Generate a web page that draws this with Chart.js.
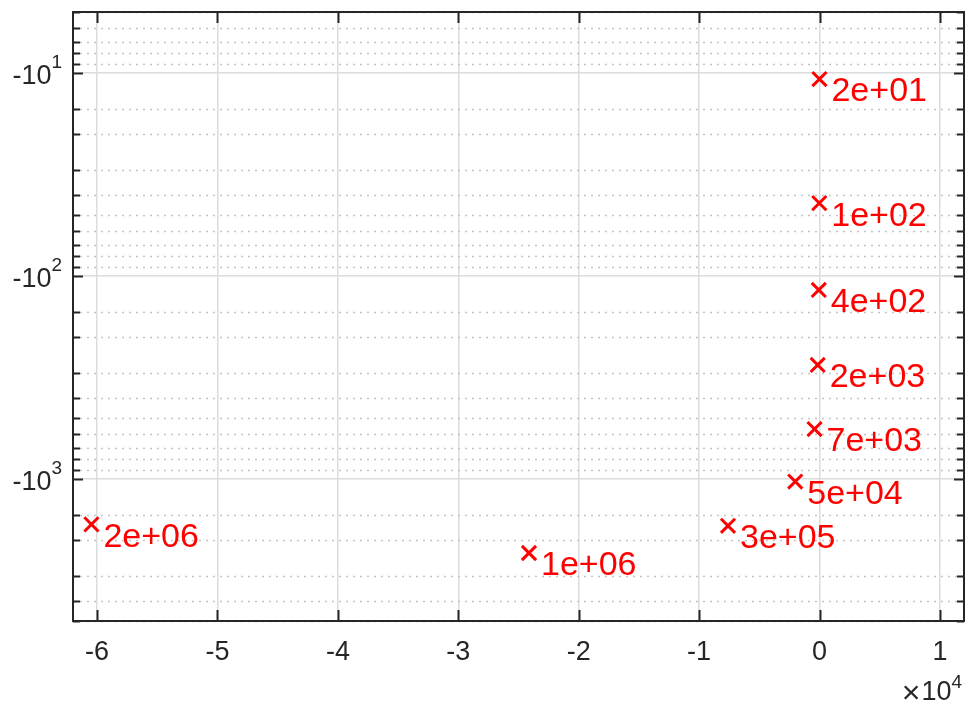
<!DOCTYPE html>
<html>
<head>
<meta charset="utf-8">
<script src="https://cdn.jsdelivr.net/npm/chart.js@4.4.1/dist/chart.umd.min.js"></script>
<style>
    html, body { margin: 0; padding: 0; background: #fff; }
</style>
</head>
<body>
<canvas id="poleChart" width="969" height="713"></canvas>
<script>
// values
const realParts = [-5, -20, -60, -150, -415, -2015, -7600, -24130, -60470];
const imagParts = [-10.7, -43.7, -117, -274, -567, -1028, -1698, -2312, -1671];
const pointLabels = ['2e+01', '1e+02', '4e+02', '2e+03', '7e+03', '5e+04', '3e+05', '1e+06', '2e+06'];
const xTicks = [-60000, -50000, -40000, -30000, -20000, -10000, 0, 10000];
const xExponent = 4;

const FONT = '"Liberation Sans", Arial, Helvetica, sans-serif';
const TEXT = '#262626';
const RED = '#ff0000';

const isDecade = v => Math.abs(Math.log10(v) - Math.round(Math.log10(v))) < 1e-9;

const matlabAxes = {
    id: 'matlabAxes',
    beforeDatasetsDraw: (chart) => {
        const { ctx, chartArea: a, scales: { y } } = chart;
        ctx.save();
        ctx.strokeStyle = '#c4c4c4';
        ctx.lineWidth = 1.5;
        ctx.setLineDash([2, 5]);
        y.ticks.forEach(t => {
            if (isDecade(t.value)) return;
            const py = Math.round(y.getPixelForValue(t.value)) + 0.5;
            ctx.beginPath();
            ctx.moveTo(a.left, py);
            ctx.lineTo(a.right, py);
            ctx.stroke();
        });
        ctx.restore();
    },
    afterDatasetsDraw: (chart) => {
        const { ctx } = chart;
        const meta = chart.getDatasetMeta(0);
        ctx.save();
        ctx.fillStyle = RED;
        ctx.font = '34px ' + FONT;
        ctx.textAlign = 'left';
        ctx.textBaseline = 'middle';
        meta.data.forEach((pt, i) => {
            ctx.fillText(pointLabels[i], pt.x + 12, pt.y + 13);
        });
        ctx.restore();
    },
    afterDraw: (chart) => {
        const { ctx, chartArea: a, scales: { x, y } } = chart;
        ctx.save();
        ctx.strokeStyle = TEXT;
        ctx.lineWidth = 2;

        // inward ticks on all four sides
        y.ticks.forEach(t => {
            const py = Math.round(y.getPixelForValue(t.value)) + 0.5;
            const len = isDecade(t.value) ? 10 : 7;
            ctx.beginPath();
            ctx.moveTo(a.left, py); ctx.lineTo(a.left + len, py);
            ctx.moveTo(a.right, py); ctx.lineTo(a.right - len, py);
            ctx.stroke();
        });
        x.ticks.forEach(t => {
            const px = Math.round(x.getPixelForValue(t.value)) + 0.5;
            ctx.beginPath();
            ctx.moveTo(px, a.bottom); ctx.lineTo(px, a.bottom - 11);
            ctx.moveTo(px, a.top); ctx.lineTo(px, a.top + 11);
            ctx.stroke();
        });
        ctx.strokeRect(a.left, a.top, a.right - a.left, a.bottom - a.top);

        // tick labels
        ctx.fillStyle = TEXT;
        ctx.textBaseline = 'middle';
        ctx.textAlign = 'center';
        ctx.font = '27px ' + FONT;
        x.ticks.forEach(t => {
            const px = x.getPixelForValue(t.value);
            ctx.fillText(String(t.value / Math.pow(10, xExponent)), px, a.bottom + 32);
        });

        y.ticks.forEach(t => {
            if (!isDecade(t.value)) return;
            const py = y.getPixelForValue(t.value);
            const exp = String(Math.round(Math.log10(t.value)));
            ctx.font = '19px ' + FONT;
            const ew = ctx.measureText(exp).width;
            ctx.textAlign = 'right';
            ctx.fillText(exp, a.left - 11, py - 10);
            ctx.font = '27px ' + FONT;
            ctx.fillText('-10', a.left - 11 - ew, py + 3);
        });

        // x10^4 multiplier
        ctx.textAlign = 'right';
        ctx.font = '19px ' + FONT;
        const ew = ctx.measureText(String(xExponent)).width;
        ctx.fillText(String(xExponent), a.right - 2, a.bottom + 62);
        ctx.font = '27px ' + FONT;
        ctx.fillText('10', a.right - 2 - ew, a.bottom + 72);
        const tw = ctx.measureText('10').width;
        ctx.font = '32px ' + FONT;
        ctx.fillText('\u00d7', a.right - 3 - ew - tw, a.bottom + 73);
        ctx.restore();
    },
};

new Chart(document.getElementById('poleChart'), {
    type: 'scatter',
    data: {
        datasets: [{
            data: realParts.map((re, i) => ({ x: re, y: Math.abs(imagParts[i]) })),
            pointStyle: 'crossRot',
            pointRadius: 10,
            pointHoverRadius: 10,
            borderColor: RED,
            backgroundColor: RED,
            borderWidth: 3,
            showLine: false,
        }]
    },
    options: {
        responsive: false,
        animation: false,
        layout: { autoPadding: false, padding: { top: 12, right: 5, left: 0, bottom: 0 } },
        plugins: { legend: { display: false }, tooltip: { enabled: false } },
        scales: {
            x: {
                type: 'linear',
                min: -62000,
                max: 12000,
                afterBuildTicks: scale => { scale.ticks = xTicks.map(v => ({ value: v })); },
                afterFit: scale => { scale.height = 92; },
                ticks: { display: false },
                border: { display: false },
                grid: { color: '#dcdcdc', lineWidth: 1.5, drawTicks: false },
            },
            y: {
                type: 'logarithmic',
                reverse: true,
                min: 5,
                max: 5000,
                afterFit: scale => { scale.width = 73; },
                ticks: { display: false },
                border: { display: false },
                grid: {
                    color: c => (c.tick && isDecade(c.tick.value)) ? '#dcdcdc' : 'rgba(0,0,0,0)',
                    lineWidth: 1.5,
                    drawTicks: false,
                },
            },
        },
    },
    plugins: [matlabAxes],
});
</script>
</body>
</html>
